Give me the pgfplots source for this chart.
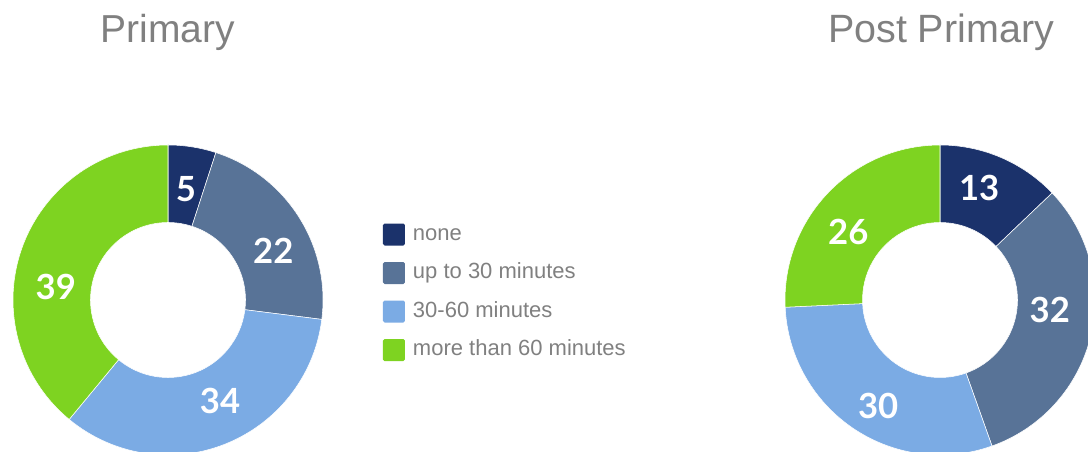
\documentclass[border=0pt]{standalone}
\usepackage{fontspec}
\setmainfont{Liberation Sans}
\newfontfamily\latofont{Lato}
\usepackage{pgfplots}
\usepackage{pgfplotstable}
\pgfplotsset{compat=1.18}

\definecolor{cNone}{HTML}{1B326B}
\definecolor{cUpto}{HTML}{587397}
\definecolor{cMid}{HTML}{7BABE4}
\definecolor{cMore}{HTML}{7ED321}
\definecolor{txtgray}{HTML}{808080}

% val = share, la/lr = where the label sits (degrees clockwise from top, px from centre)
\pgfplotstableread{
val col    la     lr
5   cNone  9.1    112.7
22  cUpto  65.0   116.2
34  cMid   152.7  113.4
39  cMore  276.8  113.0
}\primary
\pgfplotstableread{
val col    la     lr
13  cNone  19.3   118.4
32  cUpto  95.2   110.2
30  cMid   210.3  122.5
26  cMore  306.4  113.9
}\postprimary

% donut in px units (1px = 0.75pt): outer 155, inner 77.5
\newcommand\donut[3]{%
  \pgfplotstablegetrowsof{#1}\pgfmathtruncatemacro\lastrow{\pgfplotsretval-1}%
  \gdef\tot{0}%
  \foreach \i in {0,...,\lastrow}{%
    \pgfplotstablegetelem{\i}{val}\of{#1}%
    \pgfmathsetmacro\tmpsum{\tot+\pgfplotsretval}\xdef\tot{\tmpsum}}%
  \gdef\cum{0}%
  \foreach \i in {0,...,\lastrow}{%
    \pgfplotstablegetelem{\i}{val}\of{#1}\let\sval\pgfplotsretval
    \pgfplotstablegetelem{\i}{col}\of{#1}\let\scol\pgfplotsretval
    \pgfplotstablegetelem{\i}{la}\of{#1}\pgfmathsetmacro\lang{90-\pgfplotsretval}%
    \pgfplotstablegetelem{\i}{lr}\of{#1}\let\lrad\pgfplotsretval
    \pgfmathsetmacro\aone{90-\cum/\tot*360}%
    \pgfmathsetmacro\newcum{\cum+\sval}%
    \pgfmathsetmacro\atwo{90-\newcum/\tot*360}%
    \path[fill=\scol, draw=white, line width=0.4pt]
      (axis cs:{#2+155*cos(\aone)},{#3+155*sin(\aone)})
      arc[start angle=\aone, end angle=\atwo, radius=116.25pt]
      -- (axis cs:{#2+77.5*cos(\atwo)},{#3+77.5*sin(\atwo)})
      arc[start angle=\atwo, end angle=\aone, radius=58.125pt] -- cycle;
    \node[text=white, inner sep=0pt, font=\latofont\bfseries\fontsize{26pt}{26pt}\selectfont]
      at (axis cs:{#2+\lrad*cos(\lang)},{#3+\lrad*sin(\lang)}) {\sval};
    \xdef\cum{\newcum}}%
}

\begin{document}
\begin{tikzpicture}
\useasboundingbox (0,0) rectangle (816pt,339pt);
\begin{axis}[
  at={(0pt,0pt)}, anchor=origin,
  x=0.75pt, y=0.75pt,
  xmin=0, xmax=1088, ymin=0, ymax=452,
  disabledatascaling,
  hide axis,
  legend image code/.code={%
    \fill[#1, rounded corners=1.2pt] (0pt,-8.25pt) rectangle (16.5pt,8.25pt);
    \path (22.5pt,0pt);},
  legend cell align=left,
  legend style={draw=none, fill=none, inner sep=0pt, outer sep=0pt,
    at={(0.352,0.5055)}, anchor=north west, row sep=12.4pt,
    font=\fontsize{16.5pt}{18pt}\selectfont, text=txtgray,
    cells={anchor=west},
    nodes={inner sep=0pt, outer sep=0pt, text height=12pt, text depth=3.5pt}},
]
\addlegendimage{fill=cNone, draw=none}
\addlegendentry{none}
\addlegendimage{fill=cUpto, draw=none}
\addlegendentry{up to 30 minutes}
\addlegendimage{fill=cMid, draw=none}
\addlegendentry{30-60 minutes}
\addlegendimage{fill=cMore, draw=none}
\addlegendentry{more than 60 minutes}

\pgfplotsextra{%
  \donut{\primary}{168}{152}%
  \donut{\postprimary}{940}{152}%
  \node[anchor=base, text=txtgray, font=\fontsize{29.25pt}{30pt}\selectfont]
    at (axis cs:168,409) {Primary};
  \node[anchor=base, text=txtgray, font=\fontsize{29.6pt}{30pt}\selectfont]
    at (axis cs:941,409) {Post Primary};
}
\end{axis}
\end{tikzpicture}
\end{document}
